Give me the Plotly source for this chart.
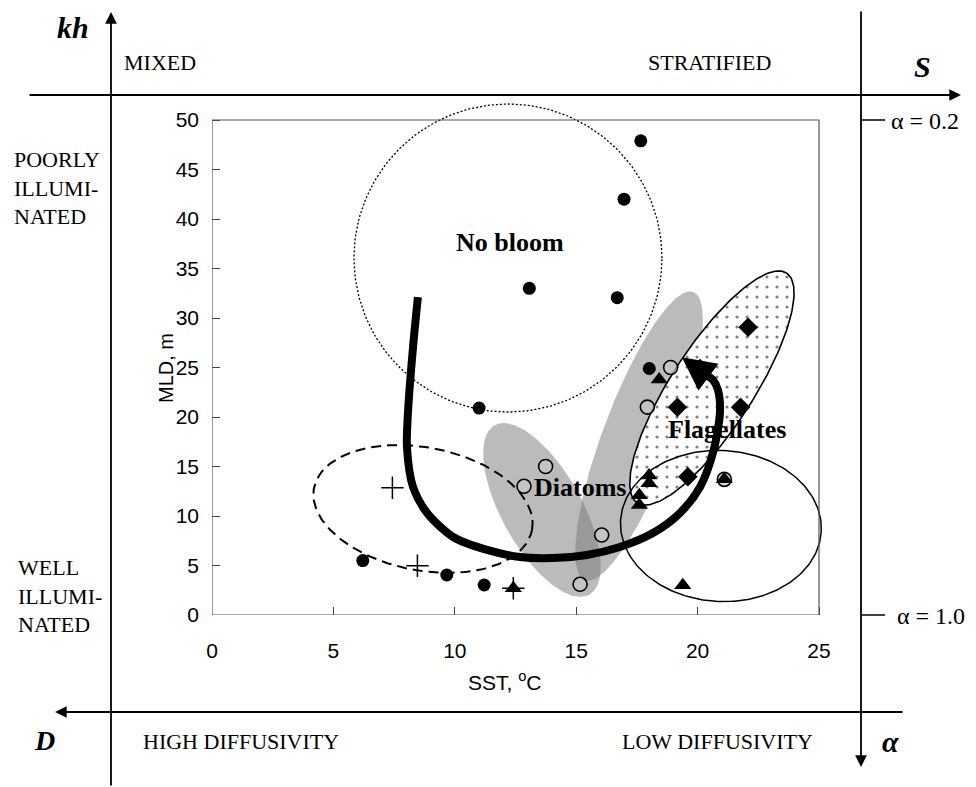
import numpy as np
import plotly.graph_objects as go

# ---------------- data ----------------
sst_filled = [17.66, 16.97, 13.07, 16.69, 11.0, 18.01, 6.21, 9.67, 11.21]
mld_filled = [47.9, 42.0, 33.0, 32.05, 20.9, 24.9, 5.5, 4.04, 3.03]

sst_open = [18.89, 17.93, 13.74, 12.85, 16.05, 15.16, 21.1]
mld_open = [25.0, 21.0, 15.0, 13.0, 8.08, 3.1, 13.7]

sst_tri = [18.42, 12.41, 19.39, 21.1, 18.0, 18.0, 17.6, 17.6]
mld_tri = [23.8, 2.7, 3.0, 13.7, 14.1, 13.3, 12.1, 11.1]

sst_dia = [22.08, 19.17, 21.77, 19.6, 20.1]
mld_dia = [29.06, 20.98, 20.98, 13.97, 24.9]

sst_cross = [7.43, 8.46, 12.41]
mld_cross = [12.86, 4.98, 2.7]

# seasonal trajectory (thick arrow)
traj_sst = [8.48, 8.28, 8.07, 8.03, 8.28, 8.86, 9.93, 11.33, 12.69, 14.04, 15.44,
            16.8, 18.16, 19.27, 20.1, 20.63, 20.92, 20.84, 20.63, 20.22]
traj_mld = [32.1, 27.07, 20.4, 16.97, 12.93, 10.3, 7.88, 6.57, 5.86, 5.76, 6.06,
            6.87, 8.28, 10.3, 12.93, 16.36, 20.4, 22.73, 23.74, 24.44]
traj_tip = (19.35, 26.03)

x_ticks = [0, 5, 10, 15, 20, 25]
y_ticks = [0, 5, 10, 15, 20, 25, 30, 35, 40, 45, 50]

# ---------------- layout geometry ----------------
W, H = 976, 787
ML, MR, MT, MB = 212, 132, 92, 172
PW, PH = W - ML - MR, H - MT - MB
PXX, PXY = 24.28, 9.9          # pixels per data unit
XMAX, YMAX = PW / PXX, PH / PXY

def ellipse(cx, cy, a_px, b_px, ang_deg, n=240):
    t = np.linspace(0, 2 * np.pi, n)
    th = np.radians(ang_deg)
    ex, ey = a_px * np.cos(t), b_px * np.sin(t)
    dx = ex * np.cos(th) - ey * np.sin(th)
    dy = ex * np.sin(th) + ey * np.cos(th)
    return cx + dx / PXX, cy + dy / PXY

# regions: centre (data units), semi-axes (px), angle (deg)
regions = {
    "nobloom": (12.19, 36.06, 154, 154, 0),
    "mixed": (8.69, 10.71, 111, 61.5, -10.9),
    "summer": (20.96, 8.99, 100.5, 75.5, -3),
    "flag": (20.59, 22.93, 137, 41, 57),
    "diat1": (13.59, 10.61, 97, 40, -60.8),
    "diat2": (17.59, 18.08, 154, 36, 69.4),
}

fig = go.Figure()

for key in ["diat1", "diat2"]:
    ex, ey = ellipse(*regions[key])
    fig.add_trace(go.Scatter(x=ex, y=ey, mode="lines", fill="toself",
                             fillcolor="rgba(120,120,120,0.5)", line=dict(width=0),
                             hoverinfo="skip", showlegend=False))

ex, ey = ellipse(*regions["flag"])
fig.add_trace(go.Scatter(x=ex, y=ey, mode="lines", fill="toself", fillcolor="white",
                         fillpattern=dict(shape=".", size=10, solidity=0.08,
                                          fgcolor="black", bgcolor="white"),
                         line=dict(color="black", width=1.6), showlegend=False))

ex, ey = ellipse(*regions["summer"])
fig.add_trace(go.Scatter(x=ex, y=ey, mode="lines", line=dict(color="black", width=1.5),
                         showlegend=False))

ex, ey = ellipse(*regions["nobloom"])
fig.add_trace(go.Scatter(x=ex, y=ey, mode="lines",
                         line=dict(color="black", width=1.3, dash="2px,2px"),
                         showlegend=False))

ex, ey = ellipse(*regions["mixed"])
fig.add_trace(go.Scatter(x=ex, y=ey, mode="lines",
                         line=dict(color="black", width=2, dash="10px,6px"),
                         showlegend=False))

fig.add_trace(go.Scatter(x=traj_sst, y=traj_mld, mode="lines",
                         line=dict(color="black", width=8, shape="spline", smoothing=0.8),
                         showlegend=False))

fig.add_trace(go.Scatter(x=sst_filled, y=mld_filled, mode="markers",
                         marker=dict(symbol="circle", size=13, color="black"),
                         cliponaxis=False, showlegend=False))
fig.add_trace(go.Scatter(x=sst_open, y=mld_open, mode="markers",
                         marker=dict(symbol="circle", size=14, color="rgba(200,200,200,0.7)",
                                     line=dict(color="black", width=1.6)),
                         showlegend=False))
fig.add_trace(go.Scatter(x=sst_tri, y=mld_tri, mode="markers",
                         marker=dict(symbol="triangle-up", size=15, color="black"),
                         showlegend=False))
fig.add_trace(go.Scatter(x=sst_dia, y=mld_dia, mode="markers",
                         marker=dict(symbol="diamond", size=15, color="black"),
                         showlegend=False))
fig.add_trace(go.Scatter(x=sst_cross, y=mld_cross, mode="markers",
                         marker=dict(symbol="cross-thin", size=16,
                                     line=dict(color="black", width=1.5)),
                         showlegend=False))

# arrow head on trajectory
fig.add_annotation(x=traj_tip[0], y=traj_tip[1], ax=traj_sst[-1], ay=traj_mld[-1],
                   xref="x", yref="y", axref="x", ayref="y", text="", showarrow=True,
                   arrowhead=2, arrowsize=0.95, arrowwidth=7, arrowcolor="black")

# region labels
serif = "Liberation Serif, Times New Roman, serif"
sans = "Liberation Sans, Arial, sans-serif"
for txt, x, y in [("No bloom", 12.27, 37.6), ("Diatoms", 15.17, 12.83),
                  ("Flagellates", 21.21, 18.7)]:
    fig.add_annotation(x=x, y=y, xref="x", yref="y", text=f"<b>{txt}</b>", showarrow=False,
                       font=dict(family=serif, size=26, color="black"))

# frame
fig.add_shape(type="rect", xref="x", yref="y", x0=0, y0=0, x1=25, y1=50,
              line=dict(color="#555", width=1.2), layer="above")

# ---------------- outer diagram (pixel positions -> paper) ----------------
def pxp(x):
    return (x - ML) / PW

def pyp(y):
    return (H - MB - y) / PH

def axis_arrow(tip, tail):
    fig.add_annotation(x=pxp(tip[0]), y=pyp(tip[1]), xref="paper", yref="paper",
                       ax=tail[0] - tip[0], ay=tail[1] - tip[1], text="", showarrow=True,
                       arrowhead=2, arrowsize=1.3, arrowwidth=1.8, arrowcolor="black")

axis_arrow((111, 12), (111, 787))
axis_arrow((961, 95), (28, 95))
axis_arrow((861, 767), (861, 10))
axis_arrow((55, 712), (904, 712))

for yy in (120, 615):
    fig.add_shape(type="line", xref="paper", yref="paper", x0=pxp(861), x1=pxp(885),
                  y0=pyp(yy), y1=pyp(yy), line=dict(color="black", width=1.5))

def label(txt, x, y, size=22, fam=serif, xanchor="center", angle=0):
    fig.add_annotation(x=pxp(x), y=pyp(y), xref="paper", yref="paper", text=txt,
                       showarrow=False, xanchor=xanchor, yanchor="middle", textangle=angle,
                       align="left", font=dict(family=fam, size=size, color="black"))

label("<b><i>kh</i></b>", 73, 27, size=30)
label("<b><i>S</i></b>", 922, 66, size=30)
label("<b><i>D</i></b>", 44, 740, size=28)
label("<b><i>α</i></b>", 890, 741, size=30)
label("MIXED", 160, 62)
label("STRATIFIED", 709, 62)
label("HIGH DIFFUSIVITY", 241, 741)
label("LOW DIFFUSIVITY", 717, 741)
label("α = 0.2", 889, 121, size=24, xanchor="left")
label("α = 1.0", 895, 616, size=24, xanchor="left")
label("POORLY<br>ILLUMI-<br>NATED", 12, 188, xanchor="left")
label("WELL<br>ILLUMI-<br>NATED", 16, 596, xanchor="left")
label("MLD, m", 166, 368, size=20, fam=sans, angle=-90)
label("SST, <sup>o</sup>C", 505, 681, size=21, fam=sans)

fig.update_layout(
    width=W, height=H, autosize=False,
    margin=dict(l=ML, r=MR, t=MT, b=MB, pad=0),
    paper_bgcolor="white", plot_bgcolor="white",
    showlegend=False,
    xaxis=dict(range=[0, XMAX], tickvals=x_ticks, ticks="inside", ticklen=8,
               tickcolor="#444", showgrid=False, zeroline=False, showline=False,
               tickfont=dict(family=sans, size=21, color="black"), ticklabelstandoff=21),
    yaxis=dict(range=[0, YMAX], tickvals=y_ticks, ticks="inside", ticklen=8,
               tickcolor="#444", showgrid=False, zeroline=False, showline=False,
               tickfont=dict(family=sans, size=21, color="black"), ticklabelstandoff=12),
)

fig.write_html("out.html")
